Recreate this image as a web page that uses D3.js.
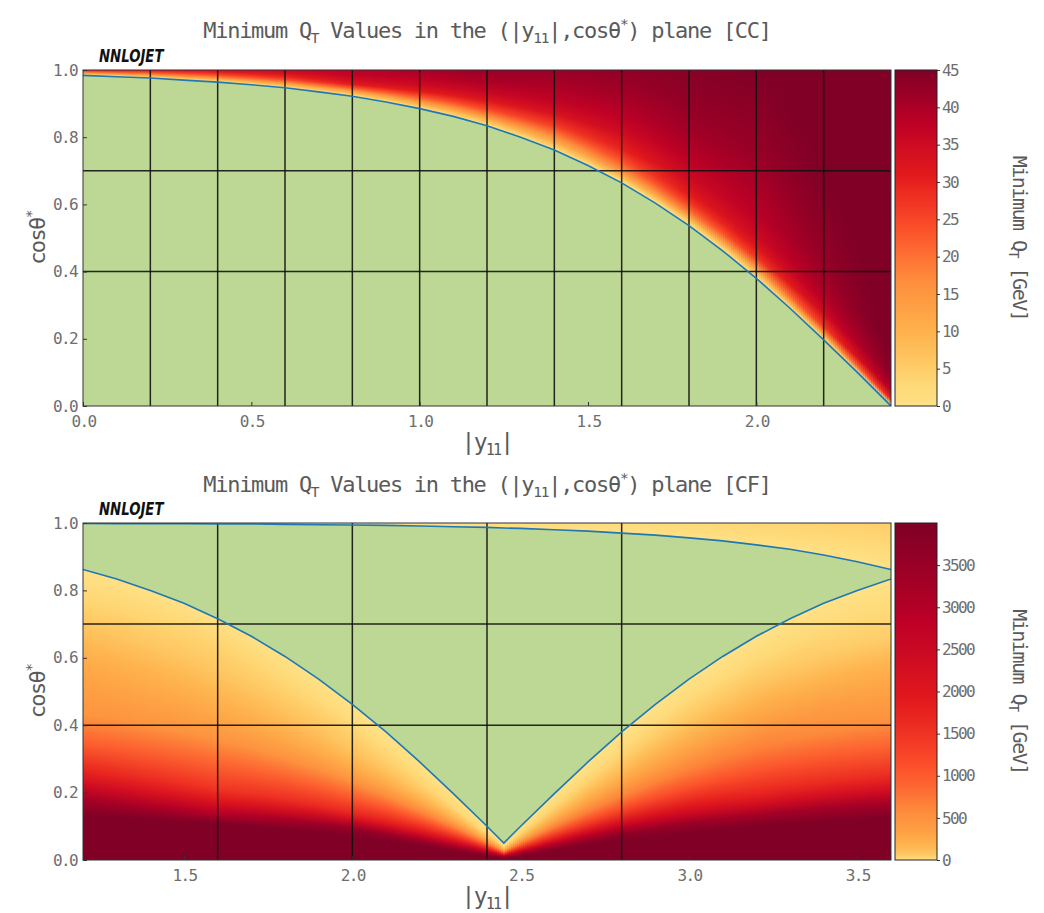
<!DOCTYPE html>
<html>
<head>
<meta charset="utf-8">
<script src="https://cdn.jsdelivr.net/npm/d3@7"></script>
<style>
  body { margin: 0; background: #fff; }
  text { font-family: "DejaVu Sans Mono", monospace; }
</style>
</head>
<body>
<div id="chart"></div>
<script>
// ---- data ----

// CC: edge of the zero region (cos theta* at each |y11|)
var ccEdgeY = [0.0, 0.1, 0.2, 0.3, 0.4, 0.5, 0.6, 0.7, 0.8, 0.9, 1.0, 1.1, 1.2,
               1.3, 1.4, 1.5, 1.6, 1.7, 1.8, 1.9, 2.0, 2.1, 2.2, 2.3, 2.4];
var ccEdge  = [0.984, 0.980, 0.976, 0.970, 0.964, 0.956, 0.947, 0.935, 0.922, 0.905, 0.885, 0.862, 0.834,
               0.800, 0.762, 0.716, 0.664, 0.604, 0.537, 0.462, 0.380, 0.291, 0.197, 0.100, 0.000];

// CC: min QT above the edge, sampled per column at fractions of the way from edge (0) to cos=1 (1)
var ccColY = [0.0, 0.2, 0.4, 0.6, 0.8, 1.0, 1.2, 1.4, 1.6, 1.8, 2.0, 2.2, 2.4];
var ccRowS = [0, 0.02, 0.05, 0.1, 0.15, 0.2, 0.3, 0.45, 0.6, 0.8, 1.0];
var ccQt = [
  [0, 1, 2, 3, 5, 6, 10, 15, 20, 25, 29],
  [0, 1, 2, 4, 6, 8, 12, 17, 22, 27, 32],
  [0, 1, 3, 5, 7, 9, 14, 20, 25, 30, 34],
  [0, 1, 3, 6, 9, 11, 17, 24, 29, 33, 36],
  [0, 2, 4, 8, 11, 14, 22, 31, 34, 37, 38],
  [0, 2, 5, 9, 12, 16, 23, 31, 35, 38, 40],
  [0, 2, 5, 9, 14, 18, 25, 32, 36, 40, 42],
  [0, 3, 6, 11, 15, 19, 26, 33, 37, 40, 42],
  [0, 3, 8, 15, 20, 24, 30, 35, 38, 41, 43],
  [0, 4, 11, 21, 27, 31, 35, 38.5, 41, 43, 44],
  [0, 6, 15, 27, 32, 35, 38, 40, 42, 43.5, 45],
  [0, 13, 27, 35, 38.5, 40.5, 42.5, 44, 45, 46, 46],
  [0, 30, 40, 44, 45, 46, 46, 46, 46, 46, 46]
];

// CF: the two edges of the zero region
var cfCurveY = [1.2, 1.3, 1.4, 1.5, 1.6, 1.7, 1.8, 1.9, 2.0, 2.1, 2.2, 2.3, 2.4, 2.45,
                2.5, 2.6, 2.7, 2.8, 2.9, 3.0, 3.1, 3.2, 3.3, 3.4, 3.5, 3.6];
var cfUpper  = [0.999, 0.998, 0.998, 0.998, 0.997, 0.997, 0.996, 0.995, 0.994, 0.993, 0.991, 0.989, 0.987, 0.985,
                0.984, 0.980, 0.976, 0.970, 0.964, 0.956, 0.947, 0.935, 0.922, 0.905, 0.885, 0.862];
var cfLower  = [0.862, 0.834, 0.800, 0.762, 0.716, 0.664, 0.604, 0.537, 0.462, 0.380, 0.291, 0.197, 0.100, 0.050,
                0.100, 0.197, 0.291, 0.380, 0.462, 0.537, 0.604, 0.664, 0.716, 0.762, 0.800, 0.834];

// CF: min QT below the lower edge, per column at fractions from cos=0 (0) to the edge (1)
var cfColY = [1.2, 1.4, 1.6, 1.8, 2.0, 2.2, 2.4, 2.6, 2.8, 3.0, 3.2, 3.4, 3.6];
var cfRowS = [0, 0.1, 0.15, 0.2, 0.25, 0.3, 0.4, 0.5, 0.6, 0.7, 0.8, 0.9, 1.0];
var cfQt = [
  [4200, 4200, 4000, 3400, 2500, 1800, 980, 470, 350, 215, 90, 20, 0],
  [4200, 4200, 4000, 3100, 2200, 1620, 940, 475, 310, 180, 75, 22, 0],
  [4200, 4200, 4000, 2800, 1950, 1440, 910, 480, 275, 150, 65, 25, 0],
  [4200, 4200, 4050, 3200, 2200, 1560, 960, 500, 250, 120, 50, 12, 0],
  [4200, 4200, 4100, 3600, 2500, 1690, 1010, 520, 220, 90, 38, 4, 0],
  [4200, 4150, 3950, 3400, 2600, 1900, 1140, 585, 240, 86, 24, 4, 0],
  [4200, 4100, 3800, 3200, 2700, 2200, 1300, 650, 260, 84, 11, 3, 0],
  [4200, 4150, 3950, 3500, 2800, 2150, 1230, 640, 285, 108, 24, 4, 0],
  [4200, 4200, 4100, 3700, 2900, 2150, 1170, 620, 310, 130, 38, 5, 0],
  [4200, 4200, 4100, 3500, 2600, 1940, 1120, 640, 350, 160, 55, 8, 0],
  [4200, 4200, 4100, 3300, 2300, 1700, 1070, 650, 390, 190, 70, 12, 0],
  [4200, 4200, 4100, 3300, 2300, 1650, 1000, 570, 365, 185, 55, 11, 0],
  [4200, 4200, 4100, 3300, 2300, 1620, 940, 495, 340, 180, 42, 10, 0]
];
// CF: min QT above the upper edge, fractions from the edge (0) to cos=1 (1)
var cfTopS = [0, 0.5, 1.0];
var cfTopQt = [
  [0, 2, 4], [0, 2, 4], [0, 2, 4], [0, 2, 4], [0, 2, 4], [0, 2, 4], [0, 2, 4],
  [0, 3, 6], [0, 4, 9], [0, 6, 14], [0, 9, 22], [0, 12, 32], [0, 15, 45]
];

// grid, ticks
var ccGridX = [0.2, 0.4, 0.6, 0.8, 1.0, 1.2, 1.4, 1.6, 1.8, 2.0, 2.2];
var cfGridX = [1.6, 2.0, 2.4, 2.8];
var gridCos = [0.4, 0.7];
var ccTicksX = [0.0, 0.5, 1.0, 1.5, 2.0];
var cfTicksX = [1.5, 2.0, 2.5, 3.0, 3.5];
var cosTicks = [0.0, 0.2, 0.4, 0.6, 0.8, 1.0];
var ccBarTicks = [0, 5, 10, 15, 20, 25, 30, 35, 40, 45];
var cfBarTicks = [0, 500, 1000, 1500, 2000, 2500, 3000, 3500];

// ---- colours ----
var ylorrd = d3.scaleLinear()
  .domain(d3.range(9).map(function (i) { return i / 8; }))
  .range(['#ffffcc', '#ffeda0', '#fed976', '#feb24c', '#fd8d3c', '#fc4e2a', '#e31a1c', '#bd0026', '#800026'])
  .clamp(true);

function ccColor(v) { return ylorrd(0.2 + 0.8 * Math.max(0, Math.min(v / 45, 1))); }
function cfColor(v) { return ylorrd(0.2 + 0.8 * Math.sqrt(Math.max(0, Math.min(v / 4000, 1)))); }

var GREEN = '#bdd894', BLUE = '#1f77b4', TEXT = '#5a5a5a', TICK = '#6e6e6e';
var LEFT = 83, RIGHT = 891, BAR_L = 895, BAR_R = 937, STRIP = 2;

var svg = d3.select('#chart').append('svg').attr('width', 1044).attr('height', 913);
var defs = svg.append('defs');

// text with sub/superscript pieces
function rich(sel, parts, size) {
  var cur = 0;
  parts.forEach(function (p) {
    var t = sel.append('tspan').text(p[0]);
    var target = 0;
    if (p[1] === 'sub') { target = size * 0.22; t.attr('font-size', size * 0.66); }
    if (p[1] === 'sup') { target = -size * 0.42; t.attr('font-size', size * 0.66); }
    if (target !== cur) t.attr('dy', target - cur);
    cur = target;
  });
  return sel;
}

function drawStrips(parent, x, y, layer) {
  var rowScales = layer.rowS.map(function (s, k) {
    return d3.scaleLinear().domain(layer.colY).range(layer.qt.map(function (col) { return col[k]; }));
  });
  d3.range(LEFT, RIGHT, STRIP).forEach(function (px, i) {
    var xv = x.invert(px + STRIP / 2);
    var gid = layer.id + '-' + i;
    var grad = defs.append('linearGradient').attr('id', gid)
      .attr('gradientUnits', 'userSpaceOnUse')
      .attr('x1', 0).attr('x2', 0)
      .attr('y1', y(layer.from(xv))).attr('y2', y(layer.to(xv)));
    grad.selectAll('stop').data(layer.rowS).enter().append('stop')
      .attr('offset', function (d) { return d; })
      .attr('stop-color', function (d, k) { return layer.color(rowScales[k](xv)); });
    var yTop = y(1), yBot = layer.rectBottom ? y(layer.rectBottom(xv)) + 2 : y(0);
    parent.append('rect')
      .attr('x', px).attr('width', STRIP + 0.6)
      .attr('y', yTop).attr('height', yBot - yTop)
      .attr('fill', 'url(#' + gid + ')')
      .attr('shape-rendering', 'crispEdges');
  });
}

function drawPanel(cfg) {
  var x = d3.scaleLinear().domain(cfg.xDomain).range([LEFT, RIGHT]);
  var y = d3.scaleLinear().domain([0, 1]).range([cfg.bottom, cfg.top]);
  var g = svg.append('g');

  defs.append('clipPath').attr('id', 'clip-' + cfg.id)
    .append('rect').attr('x', LEFT).attr('y', cfg.top)
    .attr('width', RIGHT - LEFT).attr('height', cfg.bottom - cfg.top);
  var plot = g.append('g').attr('clip-path', 'url(#clip-' + cfg.id + ')');

  cfg.layers.forEach(function (layer) { drawStrips(plot, x, y, layer); });

  // zero region
  plot.append('path').attr('d', cfg.area(x, y)).attr('fill', GREEN);

  // grid
  plot.selectAll('line.gx').data(cfg.gridX).enter().append('line')
    .attr('x1', x).attr('x2', x).attr('y1', cfg.top).attr('y2', cfg.bottom)
    .attr('stroke', '#111').attr('stroke-width', 1.5).attr('stroke-opacity', 0.9);
  plot.selectAll('line.gy').data(gridCos).enter().append('line')
    .attr('y1', y).attr('y2', y).attr('x1', LEFT).attr('x2', RIGHT)
    .attr('stroke', '#111').attr('stroke-width', 1.5).attr('stroke-opacity', 0.9);

  // edge curves
  cfg.curves.forEach(function (c) {
    var line = d3.line().x(function (d, i) { return x(c.xs[i]); }).y(function (d) { return y(d); });
    plot.append('path').attr('d', line(c.ys)).attr('fill', 'none')
      .attr('stroke', BLUE).attr('stroke-width', 1.6);
  });

  // frame
  g.append('rect').attr('x', LEFT).attr('y', cfg.top)
    .attr('width', RIGHT - LEFT).attr('height', cfg.bottom - cfg.top)
    .attr('fill', 'none').attr('stroke', '#333').attr('stroke-width', 1);

  // axes
  var ax = g.append('g').attr('transform', 'translate(0,' + cfg.bottom + ')')
    .call(d3.axisBottom(x).tickValues(cfg.ticksX).tickSize(-4).tickPadding(10).tickFormat(d3.format('.1f')));
  var ay = g.append('g').attr('transform', 'translate(' + LEFT + ',0)')
    .call(d3.axisLeft(y).tickValues(cosTicks).tickSize(-4).tickPadding(6).tickFormat(d3.format('.1f')));
  [ax, ay].forEach(function (a) {
    a.select('.domain').remove();
    a.attr('color', '#333').attr('font-family', '"DejaVu Sans Mono", monospace').attr('font-size', 16);
    a.selectAll('text').attr('fill', TICK).style('letter-spacing', '-1.6px');
  });

  // titles and labels
  rich(g.append('text').attr('x', (LEFT + RIGHT) / 2).attr('y', cfg.titleY)
    .attr('text-anchor', 'middle').attr('font-size', 22).attr('fill', TEXT)
    .style('letter-spacing', '-1.3px'),
    [['Minimum Q'], ['T', 'sub'], [' Values in the (|y'], ['11', 'sub'], ['|,cos\u03b8'], ['*', 'sup'], [') plane [' + cfg.tag + ']']], 22);

  g.append('text').attr('x', 0).attr('y', 0)
    .attr('transform', 'translate(99,' + cfg.labelY + ') scale(0.78,1)')
    .style('font-family', '"DejaVu Sans", sans-serif')
    .attr('font-weight', 'bold').attr('font-style', 'italic').attr('font-size', 17)
    .attr('fill', '#111').text('NNLOJET');

  rich(g.append('text').attr('x', (LEFT + RIGHT) / 2).attr('y', cfg.bottom + 44)
    .attr('text-anchor', 'middle').attr('font-size', 23).attr('fill', TEXT)
    .style('letter-spacing', '-1.8px'),
    [['|y'], ['11', 'sub'], ['|']], 23);

  rich(g.append('text').attr('transform', 'translate(45,' + (cfg.top + cfg.bottom) / 2 + ') rotate(-90)')
    .attr('text-anchor', 'middle').attr('font-size', 22).attr('fill', TEXT)
    .style('letter-spacing', '-1.6px'),
    [['cos\u03b8'], ['*', 'sup']], 22);

  // colour bar
  var bar = d3.scaleLinear().domain([0, cfg.barMax]).range([cfg.bottom, cfg.top]);
  var bg = defs.append('linearGradient').attr('id', 'bar-' + cfg.id)
    .attr('x1', 0).attr('y1', 1).attr('x2', 0).attr('y2', 0);
  bg.selectAll('stop').data(d3.range(0, 81)).enter().append('stop')
    .attr('offset', function (i) { return i / 80; })
    .attr('stop-color', function (i) { return cfg.color(i / 80 * cfg.barMax); });
  g.append('rect').attr('x', BAR_L).attr('y', cfg.top)
    .attr('width', BAR_R - BAR_L).attr('height', cfg.bottom - cfg.top)
    .attr('fill', 'url(#bar-' + cfg.id + ')').attr('stroke', '#222').attr('stroke-width', 1);
  var ab = g.append('g').attr('transform', 'translate(' + BAR_R + ',0)')
    .call(d3.axisRight(bar).tickValues(cfg.barTicks).tickSize(3).tickPadding(2).tickFormat(d3.format('d')));
  ab.select('.domain').remove();
  ab.attr('color', '#333').attr('font-family', '"DejaVu Sans Mono", monospace').attr('font-size', 16);
  ab.selectAll('text').attr('fill', TICK).style('letter-spacing', '-1.6px');

  rich(g.append('text').attr('transform', 'translate(1013,' + (cfg.top + cfg.bottom) / 2 + ') rotate(90)')
    .attr('text-anchor', 'middle').attr('font-size', 20).attr('fill', TEXT)
    .style('letter-spacing', '-1.5px'),
    [['Minimum Q'], ['T', 'sub'], [' [GeV]']], 20);
}

// ---- CC panel ----
var ccEdgeAt = d3.scaleLinear().domain(ccEdgeY).range(ccEdge);
drawPanel({
  id: 'cc', tag: 'CC', top: 70, bottom: 406, titleY: 38, labelY: 62,
  xDomain: [0, 2.4], gridX: ccGridX, ticksX: ccTicksX,
  color: ccColor, barMax: 45, barTicks: ccBarTicks,
  layers: [{
    id: 'ccs', colY: ccColY, rowS: ccRowS, qt: ccQt, color: ccColor,
    from: function (v) { return ccEdgeAt(v); }, to: function () { return 1; }
  }],
  area: function (x, y) {
    return d3.area().x(function (d, i) { return x(ccEdgeY[i]); })
      .y0(y(0)).y1(function (d) { return y(d); })(ccEdge);
  },
  curves: [{ xs: ccEdgeY, ys: ccEdge }]
});

// ---- CF panel ----
var cfUpperAt = d3.scaleLinear().domain(cfCurveY).range(cfUpper);
var cfLowerAt = d3.scaleLinear().domain(cfCurveY).range(cfLower);
drawPanel({
  id: 'cf', tag: 'CF', top: 523, bottom: 860, titleY: 492, labelY: 515,
  xDomain: [1.2, 3.6], gridX: cfGridX, ticksX: cfTicksX,
  color: cfColor, barMax: 4000, barTicks: cfBarTicks,
  layers: [{
    id: 'cfl', colY: cfColY, rowS: cfRowS, qt: cfQt, color: cfColor,
    from: function () { return 0; }, to: function (v) { return cfLowerAt(v); }
  }, {
    id: 'cfu', colY: cfColY, rowS: cfTopS, qt: cfTopQt, color: cfColor,
    from: function (v) { return cfUpperAt(v); }, to: function () { return 1; },
    rectBottom: function (v) { return cfUpperAt(v); }
  }],
  area: function (x, y) {
    return d3.area().x(function (d, i) { return x(cfCurveY[i]); })
      .y0(function (d, i) { return y(cfLower[i]); })
      .y1(function (d) { return y(d); })(cfUpper);
  },
  curves: [{ xs: cfCurveY, ys: cfUpper }, { xs: cfCurveY, ys: cfLower }]
});
</script>
</body>
</html>
